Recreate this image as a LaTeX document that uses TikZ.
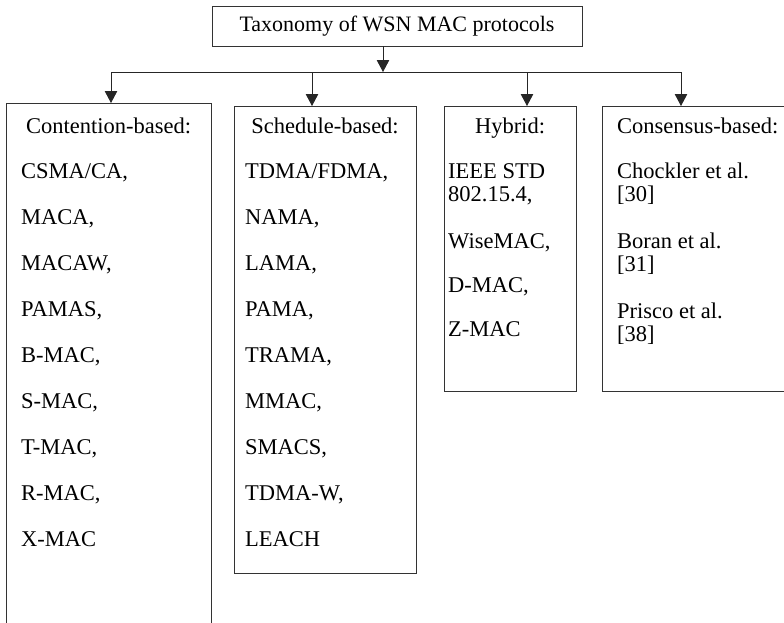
\documentclass[tikz,border=0pt]{standalone}
\usepackage{fontspec}
\setmainfont{Liberation Serif}
\usetikzlibrary{arrows.meta,positioning}
\tikzset{
  ar/.style={-{Triangle[length=12pt,width=12.5pt]},line width=0.9pt,black!85},
  box/.style={draw=black!80,line width=0.9pt,inner sep=0pt,anchor=north west},
  hd/.style={font=\fontsize{22.5}{24}\selectfont,inner sep=0pt,anchor=base},
  lbl/.style={font=\fontsize{22.5}{24}\selectfont,inner sep=0pt,anchor=base west}
}

\begin{document}
\begin{tikzpicture}[x=1pt,y=-1pt]
\useasboundingbox (0,0) rectangle (784,622);
% top node
\node[draw=black!80,line width=0.9pt,minimum width=370pt,minimum height=40pt,
      font=\fontsize{22}{24}\selectfont] (root) at (397,26) {Taxonomy of WSN MAC protocols};
\coordinate (hub) at (383,72);
% the four class boxes
\node[box,minimum width=205pt,minimum height=540pt] (cont) at (6,103) {};
\node[box,minimum width=182pt,minimum height=467pt] (sched) at (234,106) {};
\node[box,minimum width=132pt,minimum height=285pt] (hyb) at (444,106) {};
\node[box,minimum width=210pt,minimum height=285pt] (cons) at (602,106) {};
\coordinate (tcont) at (111,103);
\coordinate (tsched) at (312,106);
\coordinate (thyb) at (527,106);
\coordinate (tcons) at (681,106);
% connectors
\draw[ar] (root.south -| hub) -- (hub);
\foreach \t in {tcont,tsched,thyb,tcons}
  \draw[ar] (hub) -| (\t);
% headings
\node[hd] (conthd) at (108.5,133) {Contention-based:};
\node[hd] (schedhd) at (325,133) {Schedule-based:};
\node[hd] (hybhd) at (510,133) {Hybrid:};
\node[lbl] (conshd) at (617,133) {Consensus-based:};
% contention-based
\foreach \txt [count=\i from 0] in {CSMA/CA{,},MACA{,},MACAW{,},PAMAS{,},B-MAC{,},S-MAC{,},T-MAC{,},R-MAC{,},X-MAC}
  \node[lbl] (cont\i) at (21,178+46*\i) {\txt};
% schedule-based
\foreach \txt [count=\i from 0] in {TDMA/FDMA{,},NAMA{,},LAMA{,},PAMA{,},TRAMA{,},MMAC{,},SMACS{,},TDMA-W{,},LEACH}
  \node[lbl] (sched\i) at (245,178+46*\i) {\txt};
% hybrid
\node[lbl] (hyb0) at (448,178) {IEEE STD};
\node[lbl] (hyb1) at (448,201) {802.15.4,};
\node[lbl] (hyb2) at (448,248) {WiseMAC,};
\node[lbl] (hyb3) at (448,292) {D-MAC,};
\node[lbl] (hyb4) at (448,336) {Z-MAC};
% consensus-based
\node[lbl] (cons0) at (617,178) {Chockler et al.};
\node[lbl] (cons1) at (617,201) {[30]};
\node[lbl] (cons2) at (617,248) {Boran et al.};
\node[lbl] (cons3) at (617,271) {[31]};
\node[lbl] (cons4) at (617,318) {Prisco et al.};
\node[lbl] (cons5) at (617,341) {[38]};
\end{tikzpicture}
\end{document}
